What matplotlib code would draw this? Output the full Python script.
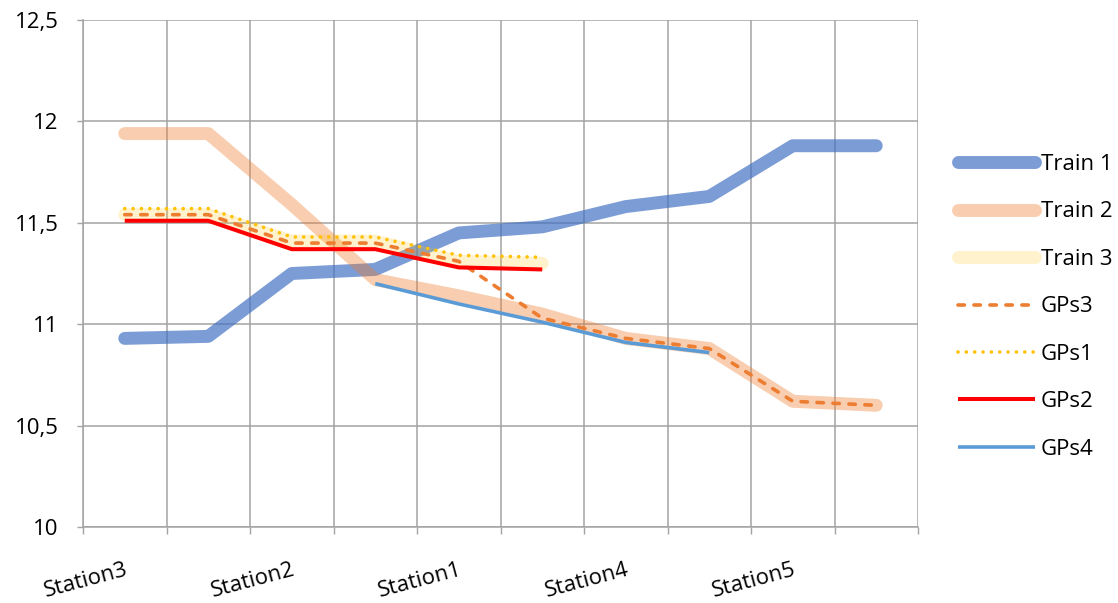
import numpy as np
import matplotlib
matplotlib.use("Agg")
import matplotlib.pyplot as plt
from matplotlib.ticker import FixedLocator, FuncFormatter

plt.rcParams['font.family'] = ['Open Sans', 'DejaVu Sans']
plt.rcParams['lines.scale_dashes'] = False

nan = np.nan

# ten measuring points along the route; every second one carries a station name
stations = ["Station3", "", "Station2", "", "Station1", "",
            "Station4", "", "Station5", ""]

train1 = [10.93, 10.94, 11.25, 11.27, 11.45, 11.48, 11.58, 11.63, 11.88, 11.88]
train2 = [11.94, 11.94, 11.59, 11.22, 11.14, 11.05, 10.93, 10.88, 10.62, 10.60]
train3 = [11.54, 11.54, 11.41, 11.41, 11.31, 11.30, nan, nan, nan, nan]
gps3 = [11.54, 11.54, 11.40, 11.40, 11.31, 11.03, 10.93, 10.88, 10.62, 10.60]
gps1 = [11.57, 11.57, 11.43, 11.43, 11.34, 11.33, nan, nan, nan, nan]
gps2 = [11.51, 11.51, 11.37, 11.37, 11.28, 11.27, nan, nan, nan, nan]
gps4 = [nan, nan, nan, 11.20, 11.10, 11.01, 10.91, 10.86, nan, nan]

yticks = [10, 10.5, 11, 11.5, 12, 12.5]

x = np.arange(len(stations))

fig = plt.figure(figsize=(11.18, 6.03), dpi=100)
ax = fig.add_axes([83 / 1118, 76 / 603, 835 / 1118, 507 / 603])

grid_c = '#A3A3A3'
wide = dict(solid_capstyle='round', solid_joinstyle='round')

ax.plot(x, train1, color='#4472C4', alpha=0.7, lw=9.3, label='Train 1', **wide)
ax.plot(x, train2, color='#ED7D31', alpha=0.38, lw=9.3, label='Train 2', **wide)
ax.plot(x, train3, color='#FFC000', alpha=0.2, lw=9.3, label='Train 3', **wide)

l3, = ax.plot(x, gps3, color='#ED7D31', lw=2.6, label='GPs3',
              dash_capstyle='round', solid_joinstyle='round')
l3.set_dashes((4.6, 6.9))
l1, = ax.plot(x, gps1, color='#FFC000', lw=2.6, label='GPs1',
              dash_capstyle='round')
l1.set_dashes((0.01, 6.0))
ax.plot(x, gps2, color='#FF0000', lw=2.9, label='GPs2',
        solid_capstyle='butt', solid_joinstyle='round')
ax.plot(x, gps4, color='#5B9BD5', lw=2.6, label='GPs4',
        solid_capstyle='butt', solid_joinstyle='round')

ax.set_xlim(-0.5, len(stations) - 0.5)
ax.set_ylim(10, 12.5)

# category boundaries carry grid lines and tick marks, centres carry the names
ax.set_xticks(x)
ax.set_xticklabels(stations)
ax.xaxis.set_minor_locator(FixedLocator(np.arange(-0.5, len(stations), 1.0)))
ax.tick_params(axis='x', which='major', length=0, pad=23, labelsize=16)
ax.tick_params(axis='x', which='minor', length=5, width=1, color=grid_c, direction='out')
for lab in ax.get_xticklabels():
    lab.set_rotation(15)
    lab.set_ha('right')
    lab.set_va('top')
    lab.set_rotation_mode('anchor')

ax.set_yticks(yticks)
ax.yaxis.set_major_formatter(FuncFormatter(lambda v, p: f"{v:g}".replace('.', ',')))
ax.tick_params(axis='y', length=4.5, width=1, color=grid_c, direction='out',
               pad=13, labelsize=16)

ax.grid(which='minor', axis='x', color=grid_c, lw=1.1)
ax.grid(which='major', axis='y', color=grid_c, lw=1.1)
ax.set_axisbelow(True)
for side in ('top', 'right'):
    ax.spines[side].set_visible(False)
for side in ('left', 'bottom'):
    ax.spines[side].set_color(grid_c)
    ax.spines[side].set_linewidth(1.1)

fig.legend(loc='upper left', bbox_to_anchor=(958 / 1118, 1 - 154 / 603),
           frameon=False, fontsize=16, borderpad=0, borderaxespad=0,
           handlelength=3.47, handletextpad=0.25, labelspacing=1.19)

fig.savefig('out.png', dpi=100)
